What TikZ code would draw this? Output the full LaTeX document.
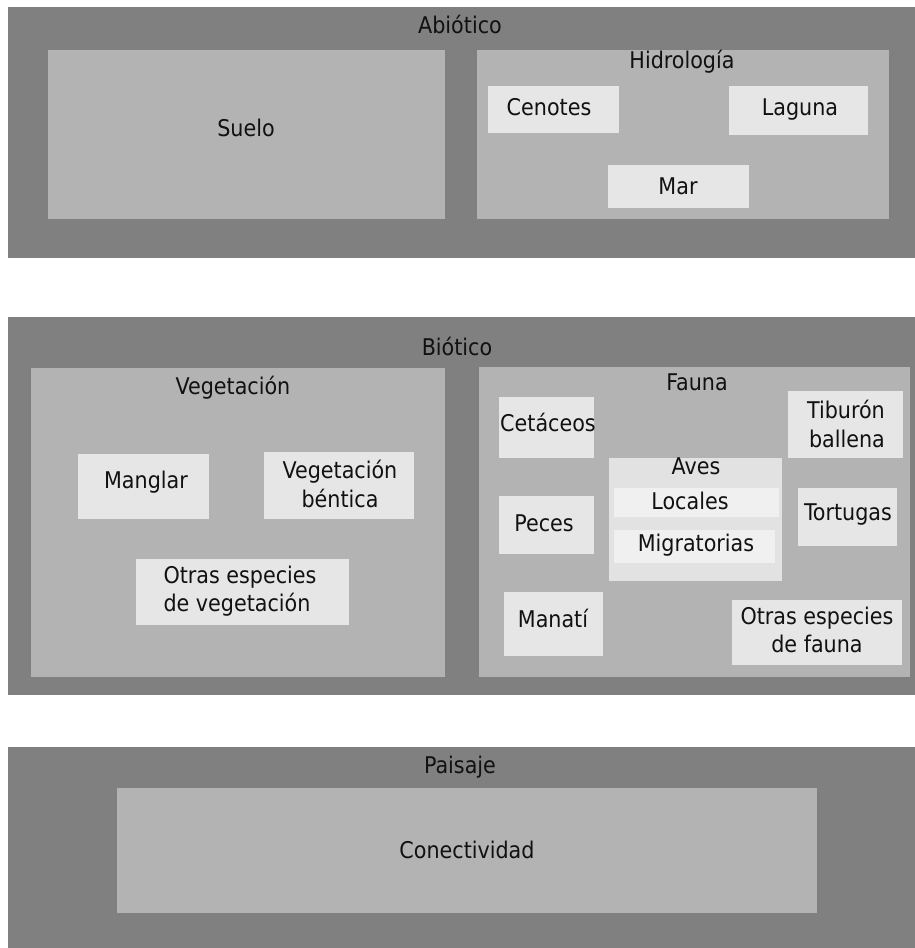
\documentclass[tikz,border=0pt]{standalone}
\usepackage{fontspec}
\setmainfont{DejaVu Sans Condensed}
\usepackage{tikz}

\definecolor{grisoscuro}{HTML}{808080}
\definecolor{grismedio}{HTML}{B3B3B3}
\definecolor{grisclaro}{HTML}{E6E6E6}
\definecolor{grisaves}{HTML}{E2E2E2}
\definecolor{grisblanco}{HTML}{F0F0F0}
\definecolor{texto}{HTML}{111111}

\tikzset{
  caja/.style 2 args={minimum width=#1pt, minimum height=#2pt, inner sep=0, outer sep=0},
  rotulo/.style={inner sep=0, text=texto, font=\fontsize{23}{28.5}\selectfont, align=center}
}

\begin{document}
\begin{tikzpicture}[x=1pt, y=-1pt]
        \useasboundingbox[fill=white] (0,0) rectangle (915,948);
        \begin{scope}[every node/.style={fill=grisoscuro}]
                \node[caja={907}{251}] (abiotico) at (461.5,132.5) {};
                \node[caja={907}{378}] (biotico) at (461.5,506) {};
                \node[caja={907}{201}] (paisaje) at (461.5,847.5) {};
        \end{scope}
        \begin{scope}[every node/.style={fill=grismedio}]
                \node[caja={397}{169}] (suelo) at (246.5,134.5) {};
                \node[caja={412}{169}] (hidrologia) at (683,134.5) {};
                \node[caja={414}{309}] (vegetacion) at (238,522.5) {};
                \node[caja={431}{310}] (fauna) at (694.5,522) {};
                \node[caja={700}{125}] (conectividad) at (467,850.5) {};
        \end{scope}
        \begin{scope}[every node/.style={fill=grisclaro}]
                \node[caja={131}{47}] (cenotes) at (553.5,109.5) {};
                \node[caja={139}{49}] (laguna) at (798.5,110.5) {};
                \node[caja={141}{43}] (mar) at (678.5,186.5) {};
                \node[caja={131}{65}] (manglar) at (143.5,486.5) {};
                \node[caja={150}{67}] (bentica) at (339,485.5) {};
                \node[caja={213}{66}] (otrasveg) at (242.5,592) {};
                \node[caja={95}{61}] (cetaceos) at (546.5,427.5) {};
                \node[caja={115}{67}] (tiburon) at (845.5,424.5) {};
                \node[caja={95}{58}] (peces) at (546.5,525) {};
                \node[caja={99}{58}] (tortugas) at (847.5,517) {};
                \node[caja={99}{64}] (manati) at (553.5,624) {};
                \node[caja={170}{65}] (otrasfau) at (817,632.5) {};
                \node[caja={173}{123}, fill=grisaves] (aves) at (695.5,519.5) {};
                \node[caja={165}{29}, fill=grisblanco] (locales) at (696.5,502.5) {};
                \node[caja={161}{33}, fill=grisblanco] (migratorias) at (694.5,546.5) {};
        \end{scope}
        \begin{scope}[every node/.style={rotulo}]
                \node (tabiotico) at (460,24) {Abiótico};
                \node (tsuelo) at (246,128) {Suelo};
                \node (thidrologia) at (682,62) {Hidrología};
                \node (tcenotes) at (549,107) {Cenotes};
                \node (tlaguna) at (800,110) {Laguna};
                \node (tmar) at (678,186) {Mar};
                \node (tbiotico) at (457,346) {Biótico};
                \node (tvegetacion) at (233,388) {Vegetación};
                \node (tmanglar) at (146,482) {Manglar};
                \node (tbentica) at (340,484) {Vegetación\\ béntica};
                \node[align=left] (totrasveg) at (240,591) {Otras especies\\de vegetación};
                \node (tfauna) at (697,382) {Fauna};
                \node (tcetaceos) at (548,422) {Cetáceos};
                \node[align=right] (ttiburon) at (846,424) {Tiburón\\ballena};
                \node (taves) at (696,466) {Aves};
                \node (tlocales) at (690,501) {Locales};
                \node (tmigratorias) at (696,545) {Migratorias};
                \node (tpeces) at (544,523) {Peces};
                \node (ttortugas) at (848,515) {Tortugas};
                \node (tmanati) at (553,618) {Manatí};
                \node (totrasfau) at (817,630) {Otras especies\\de fauna};
                \node (tpaisaje) at (460,767) {Paisaje};
                \node (tconectividad) at (467,850) {Conectividad};
        \end{scope}
\end{tikzpicture}
\end{document}
